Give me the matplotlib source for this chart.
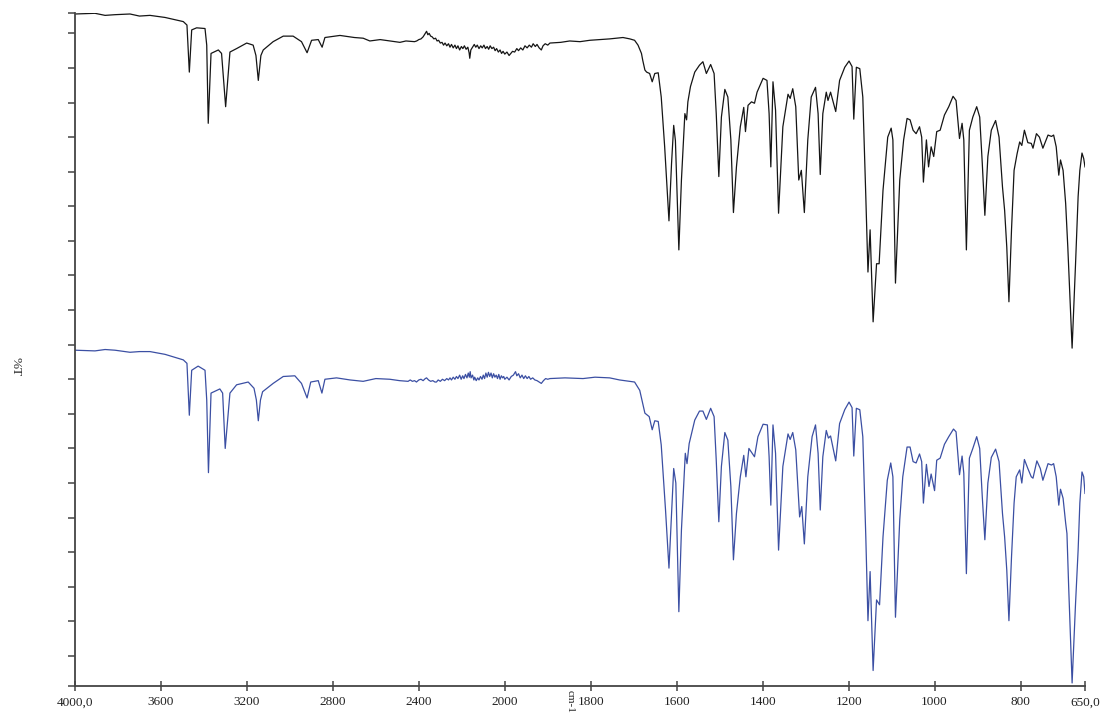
import numpy as np
import matplotlib
matplotlib.use("Agg")
import matplotlib.pyplot as plt

# upper trace (black): wavenumber / display value pairs
wn_top = [4000, 3907, 3860, 3814, 3744, 3700, 3651, 3581, 3496, 3479, 3468, 3457, 3434, 3395,
          3387, 3380, 3367, 3333, 3318, 3299, 3279, 3248, 3201, 3171, 3158, 3147, 3135, 3124,
          3078, 3031, 2985, 2946, 2920, 2899, 2868, 2850, 2837, 2767, 2700, 2659, 2628, 2580,
          2535, 2488, 2460,
          2420, 2410, 2400, 2390, 2380, 2372, 2364, 2358, 2352, 2345, 2338, 2330, 2322, 2315,
          2308, 2300, 2292, 2285, 2278, 2270, 2262, 2255, 2248, 2240, 2232, 2225, 2218, 2210,
          2202, 2195, 2188, 2180, 2172, 2166, 2163, 2158, 2150, 2142, 2135, 2128, 2120, 2112,
          2105, 2097, 2090, 2082, 2075, 2068, 2060, 2052, 2045, 2038, 2030, 2022, 2015, 2008,
          2000, 1995, 1990, 1986, 1982, 1977, 1972, 1968, 1963, 1958, 1953, 1948, 1943, 1938,
          1934, 1929, 1925, 1920, 1915, 1911, 1906, 1900, 1895,
          1870, 1849, 1825, 1802, 1780, 1756, 1740, 1725, 1709, 1698, 1690, 1682, 1679, 1674,
          1670, 1663, 1657, 1651, 1643, 1636, 1628, 1618, 1612, 1607, 1603, 1595, 1589, 1581,
          1577, 1574, 1568, 1558, 1547, 1539, 1531, 1521, 1513, 1508, 1502, 1496, 1488, 1481,
          1474, 1468, 1461, 1452, 1444, 1440, 1434, 1426, 1419, 1413, 1399, 1390, 1385, 1381,
          1376, 1370, 1363, 1353, 1341, 1336, 1330, 1323, 1316, 1310, 1303, 1295, 1287, 1277,
          1271, 1266, 1260, 1252, 1248, 1242, 1230, 1221, 1209, 1199, 1192, 1188, 1182, 1174,
          1167, 1160, 1155, 1150, 1143, 1135, 1129, 1120, 1109, 1101, 1097, 1091, 1081, 1072,
          1064, 1057, 1050, 1043, 1035, 1030, 1026, 1019, 1014, 1008, 1002, 995, 987, 977,
          967, 957, 950, 942, 936, 932, 926, 919, 911, 902, 895, 889, 883, 876, 868, 858,
          850, 842, 837, 832, 827, 821, 815, 808, 802, 797, 791, 783, 775, 771, 763, 756,
          748, 736, 728, 723, 717, 711, 707, 701, 695, 690, 680, 672, 666, 662, 657, 653, 650]
t_top = [92.8, 92.9, 92.6, 92.7, 92.8, 92.5, 92.6, 92.3, 91.7, 91.2, 84.4, 90.5, 90.8, 90.7,
         88.3, 77.0, 87.1, 87.6, 87.1, 79.4, 87.3, 87.8, 88.6, 88.3, 86.8, 83.2, 86.8, 87.6,
         88.8, 89.6, 89.6, 88.8, 87.2, 89.0, 89.1, 88.0, 89.4, 89.7, 89.4, 89.3, 88.9, 89.1,
         88.9, 88.7, 88.9,
         88.8, 88.9, 89.1, 89.2, 89.5, 89.9, 90.3, 89.8, 90.0, 89.6, 89.5, 89.2, 89.3, 88.9,
         89.0, 88.6, 88.7, 88.3, 88.6, 88.2, 88.5, 88.0, 88.4, 87.9, 88.3, 87.8, 88.2, 87.6,
         88.1, 87.8, 88.2, 87.7, 88.0, 87.2, 86.4, 87.6, 88.0, 88.4, 88.0, 88.3, 87.8, 88.2,
         87.9, 88.3, 87.8, 88.1, 87.7, 88.2, 87.8, 88.0, 87.5, 87.8, 87.3, 87.6, 87.1, 87.4,
         87.0, 87.3, 86.8, 87.1, 87.4, 87.3, 87.8, 87.5, 87.9, 87.6, 88.2, 87.9, 88.3, 88.0,
         88.5, 88.1, 88.4, 87.9, 87.6, 88.2, 88.5, 88.3, 88.6,
         88.7, 88.9, 88.8, 89.0, 89.1, 89.2, 89.3, 89.4, 89.2, 89.0, 88.3, 87.1, 86.1, 84.7,
         84.4, 84.2, 83.0, 84.2, 84.3, 80.8, 73.6, 62.9, 71.2, 76.7, 74.5, 58.7, 68.8, 78.4,
         77.5, 80.1, 82.3, 84.4, 85.4, 85.9, 84.2, 85.5, 84.2, 78.4, 69.3, 77.9, 81.9, 80.8,
         74.6, 64.1, 70.7, 76.5, 79.3, 75.8, 79.6, 80.1, 79.9, 81.5, 83.5, 83.2, 78.4, 70.7,
         83.0, 78.9, 64.0, 76.5, 81.2, 80.6, 82.0, 79.4, 68.8, 70.2, 64.1, 74.6, 80.8, 82.2,
         78.4, 69.6, 78.4, 81.5, 80.3, 81.5, 78.7, 83.2, 85.1, 86.0, 85.2, 77.6, 85.1, 84.9,
         80.8, 66.4, 55.5, 61.6, 48.3, 56.7, 56.7, 67.3, 75.0, 76.3, 74.6, 53.9, 68.8, 74.6,
         77.7, 77.5, 76.0, 75.5, 76.5, 75.0, 68.5, 74.6, 70.7, 73.6, 72.2, 75.8, 76.0, 78.2,
         79.4, 80.9, 80.3, 74.8, 77.0, 74.6, 58.7, 76.0, 77.9, 79.4, 77.9, 71.2, 63.7, 72.2, 76.0, 77.4,
         75.0, 67.8, 64.4, 59.1, 51.2, 61.6, 70.2, 72.6, 74.3, 73.8, 76.0, 74.2, 74.1, 73.4, 75.5, 75.0,
         73.4, 75.3, 75.1, 75.3, 73.6, 69.5, 71.7, 70.2, 65.4, 59.1, 44.5, 56.7, 66.4, 70.2, 72.7, 71.9, 70.7]

# lower trace (blue)
wn_bot = [4000, 3907, 3860, 3814, 3744, 3700, 3651, 3581, 3496, 3479, 3468, 3457, 3427, 3395,
          3387, 3379, 3367, 3326, 3313, 3301, 3279, 3248, 3194, 3167, 3156, 3147, 3137, 3127,
          3078, 3031, 2977, 2946, 2920, 2903, 2868, 2851, 2837, 2783, 2720, 2659, 2600, 2535,
          2490,
          2450, 2440, 2430, 2420, 2411, 2400, 2390, 2380, 2370, 2364, 2355, 2345, 2335, 2325,
          2318, 2310, 2300, 2290, 2280, 2270, 2262, 2255, 2248, 2240, 2232, 2225, 2218, 2210,
          2203, 2196, 2190, 2183, 2176, 2170, 2165, 2161, 2157, 2150, 2144, 2140, 2133, 2126,
          2120, 2113, 2106, 2100, 2094, 2088, 2082, 2076, 2070, 2064, 2058, 2052, 2046, 2040,
          2034, 2028, 2022, 2016, 2010, 2005, 2000, 1995, 1990, 1985, 1980, 1975, 1972, 1968,
          1964, 1960, 1956, 1952, 1948, 1944, 1940, 1935, 1930, 1925, 1920, 1915, 1910, 1905,
          1900, 1895,
          1860, 1818, 1790, 1756, 1733, 1698, 1686, 1674, 1664, 1657, 1651, 1643, 1636, 1626,
          1618, 1612, 1607, 1602, 1595, 1589, 1580, 1576, 1571, 1558, 1547, 1539, 1531, 1521,
          1513, 1508, 1502, 1496, 1488, 1481, 1474, 1468, 1461, 1452, 1444, 1439, 1432, 1419,
          1411, 1399, 1389, 1385, 1381, 1376, 1370, 1363, 1353, 1341, 1336, 1330, 1323, 1314,
          1309, 1303, 1295, 1285, 1277, 1271, 1266, 1260, 1252, 1247, 1242, 1230, 1221, 1209,
          1199, 1192, 1188, 1182, 1174, 1167, 1160, 1155, 1150, 1143, 1135, 1128, 1120, 1110,
          1102, 1097, 1091, 1081, 1074, 1064, 1057, 1050, 1043, 1035, 1030, 1026, 1019, 1013,
          1008, 1000, 995, 987, 977, 967, 956, 950, 942, 936, 932, 926, 919, 911, 902, 895,
          889, 883, 876, 868, 858, 850, 842, 837, 832, 827, 821, 815, 810, 802, 797, 791,
          783, 775, 771, 762, 754, 748, 736, 728, 723, 717, 711, 707, 701, 695, 692, 688,
          680, 672, 666, 662, 657, 653, 650]
t_bot = [44.2, 44.1, 44.3, 44.2, 43.9, 44.0, 44.0, 43.6, 42.8, 42.3, 34.8, 41.3, 41.9, 41.3,
         37.0, 26.5, 38.0, 38.6, 38.0, 30.0, 38.0, 39.2, 39.6, 38.7, 37.0, 34.0, 37.0, 38.2,
         39.4, 40.4, 40.5, 39.4, 37.3, 39.6, 39.8, 38.0, 40.0, 40.2, 39.9, 39.7, 40.1, 40.0,
         39.8,
         39.7, 39.9, 39.7, 39.8, 39.6, 39.9, 40.0, 39.8, 40.1, 40.2, 39.9, 39.7, 39.8, 39.6,
         39.6, 39.9, 39.7, 40.0, 39.8, 40.1, 39.9, 40.2, 39.9, 40.3, 40.0, 40.4, 40.1, 40.6,
         40.0, 40.5, 40.1, 40.7, 40.2, 40.9, 40.3, 41.1, 40.2, 40.6, 39.9, 40.3, 39.8, 40.2,
         39.9, 40.4, 40.0, 40.6, 40.1, 40.9, 40.3, 41.0, 40.4, 40.9, 40.2, 40.8, 40.3, 40.6,
         40.1, 40.7, 40.0, 40.5, 40.2, 40.4, 40.0, 40.3, 39.9, 40.4, 40.6, 41.1, 40.5, 40.8,
         40.2, 40.6, 40.1, 40.5, 40.1, 40.4, 40.0, 40.2, 39.9, 39.8, 39.6, 39.4, 39.8, 40.1,
         40.0, 40.1,
         40.2, 40.1, 40.3, 40.2, 39.9, 39.6, 38.4, 35.1, 34.6, 32.7, 34.0, 33.9, 30.5, 21.1,
         12.7, 20.6, 27.1, 25.0, 6.4, 18.2, 29.3, 27.8, 30.7, 34.1, 35.4, 35.4, 34.2, 35.8,
         34.6, 28.3, 19.4, 27.4, 32.3, 31.2, 24.5, 13.9, 20.6, 25.9, 29.0, 25.9, 30.0, 28.8,
         31.7, 33.5, 33.4, 28.8, 21.8, 33.4, 29.3, 15.3, 27.4, 32.1, 31.3, 32.3, 29.8, 20.1,
         21.6, 16.2, 25.9, 31.7, 33.4, 29.3, 21.1, 28.8, 32.6, 31.5, 31.8, 28.2, 33.6, 35.6,
         36.7, 35.9, 28.9, 35.8, 35.6, 31.7, 17.2, 5.1, 12.2, -2.1, 8.1, 7.4, 17.2, 25.4,
         27.9, 25.9, 5.6, 19.7, 25.9, 30.2, 30.2, 28.1, 27.9, 29.2, 28.1, 22.1, 27.7, 24.5,
         26.3, 23.9, 28.3, 28.6, 30.6, 31.7, 32.8, 32.4, 26.2, 28.9, 26.4, 11.9, 28.6, 30.0, 31.7, 30.0,
         23.0, 16.8, 25.0, 28.7, 29.9, 28.1, 20.6, 17.2, 12.4, 5.1, 14.3, 22.1, 25.9, 26.9, 25.0, 28.4,
         27.1, 25.9, 25.7, 28.2, 27.1, 25.4, 27.8, 27.6, 27.8, 25.9, 21.8, 24.1, 22.8, 19.2, 17.7, 10.0,
         -3.9, 7.6, 15.3, 22.1, 26.6, 25.9, 23.5]

xticks = [4000, 3600, 3200, 2800, 2400, 2000, 1800, 1600, 1400, 1200, 1000, 800, 650]
xtick_labels = ["4000,0", "3600", "3200", "2800", "2400", "2000", "1800", "1600",
                "1400", "1200", "1000", "800", "650,0"]
y_lo, y_hi = -4.34, 92.9
yticks = [y_lo] + list(range(0, 95, 5)) + [y_hi]


def fwd(w):
    # region above 2000 cm-1 is drawn at half scale
    w = np.asarray(w, dtype=float)
    return np.where(w > 2000, 2000 + (w - 2000) / 2.0, w)


def inv(u):
    u = np.asarray(u, dtype=float)
    return np.where(u > 2000, 2000 + (u - 2000) * 2.0, u)


fig = plt.figure(figsize=(11.06, 7.13), dpi=100)
ax = fig.add_axes([75 / 1106, 27 / 713, 1010 / 1106, 672.7 / 713])

ax.plot(wn_top, t_top, color="#151515", lw=0.9)
ax.plot(wn_bot, t_bot, color="#3b4fa3", lw=0.9)

ax.set_xscale("function", functions=(fwd, inv))
ax.set_xlim(4000, 650)
ax.set_ylim(y_lo, y_hi)

ax.set_xticks(xticks)
ax.set_xticklabels(xtick_labels, fontfamily="Liberation Serif", fontsize=9.5)
ax.xaxis.set_minor_locator(matplotlib.ticker.NullLocator())
ax.set_yticks(yticks)
ax.set_yticklabels([])

for side in ("top", "right"):
    ax.spines[side].set_visible(False)
for side in ("left", "bottom"):
    ax.spines[side].set_color("#444444")
    ax.spines[side].set_linewidth(1.3)
ax.tick_params(axis="y", direction="out", length=5, width=1.1, color="#444444")
ax.tick_params(axis="x", direction="inout", length=7, width=1.1, color="#444444",
               pad=4, labelcolor="#222222")

fig.text(15 / 1106, 1 - 367 / 713, "%T", rotation=270, ha="center", va="center",
         fontfamily="Liberation Serif", fontsize=9.5, color="#222222")
fig.text(570 / 1106, 1 - 690 / 713, "cm-1", rotation=270, ha="center", va="top",
         fontfamily="Liberation Serif", fontsize=8, color="#222222")

fig.savefig("out.png", dpi=100)
